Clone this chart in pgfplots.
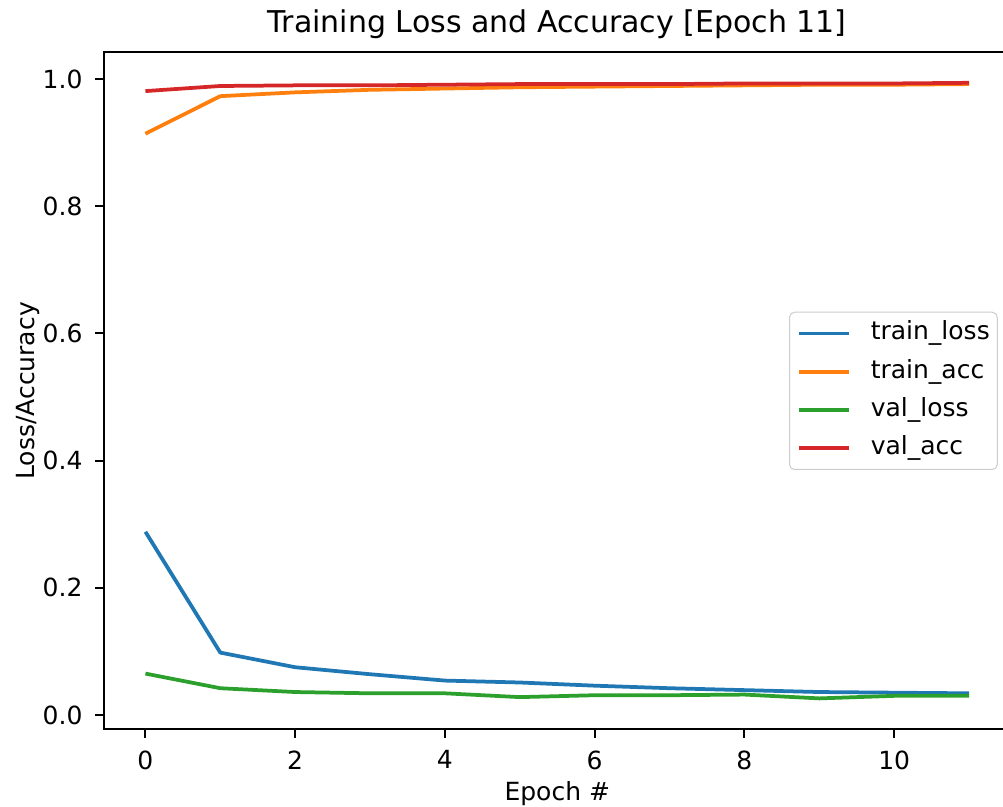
\documentclass[border=0pt]{standalone}
\usepackage{pgfplots}
\pgfplotsset{compat=1.18}
\usepackage{fontspec}
\setmainfont{DejaVu Sans}

\definecolor{c0}{HTML}{1F77B4}
\definecolor{c1}{HTML}{FF7F0E}
\definecolor{c2}{HTML}{2CA02C}
\definecolor{c3}{HTML}{D62728}

\begin{document}
\begin{tikzpicture}
\begin{axis}[
    name=ax,
    scale only axis,
    width=362.4pt, height=270.7pt,
    xmin=-0.55, xmax=11.55,
    ymin=-0.0225, ymax=1.0417,
    xtick={0,2,...,10},
    ytick={0,0.2,0.4,0.6,0.8,1.0},
    yticklabel style={/pgf/number format/fixed, /pgf/number format/fixed zerofill, /pgf/number format/precision=1},
    /pgf/number format/assume math mode=true,
    ticklabel style={font=\fontsize{10}{12}\selectfont},
    tick align=outside,
    major tick length=3.5pt,
    every tick/.style={black, line width=0.8pt},
    axis line style={line width=0.8pt},
    xtick pos=bottom, ytick pos=left,
    tick label style={inner sep=0pt},
    xticklabel style={yshift=-4.8pt, anchor=north},
    yticklabel style={xshift=-5pt, anchor=east},
    xlabel={Epoch \#},
    xlabel style={at={(axis description cs:0.5,-0.1053)}, anchor=base, inner sep=0pt, font=\fontsize{10}{12}\selectfont},
    ylabel={Loss/Accuracy},
    ylabel style={at={(axis description cs:-0.0773,0.5)}, anchor=base, inner sep=0pt, font=\fontsize{10}{12}\selectfont},
    legend image code/.code={\draw[#1] (0pt,0pt) -- (20pt,0pt);},
    legend cell align=left,
    legend style={
        at={(axis description cs:1,0.5)}, anchor=east, xshift=-5pt,
        draw={black!20}, rounded corners=2pt, fill=white, fill opacity=0.8, text opacity=1,
        font=\fontsize{10}{12}\selectfont,
        inner xsep=3pt, inner ysep=3.5pt,
        nodes={inner sep=0pt, text height=7.6pt, text depth=2.4pt},
        row sep=5.3pt, column sep=8pt,
    },
    every axis plot/.append style={line width=1.5pt, line join=round},
]
\addplot[c0] coordinates {(0,0.288) (1,0.098) (2,0.075) (3,0.064) (4,0.054) (5,0.051) (6,0.046) (7,0.042) (8,0.039) (9,0.036) (10,0.035) (11,0.034)};
\addlegendentry{train\_loss}
\addplot[c1] coordinates {(0,0.914) (1,0.973) (2,0.979) (3,0.983) (4,0.985) (5,0.987) (6,0.988) (7,0.989) (8,0.990) (9,0.991) (10,0.991) (11,0.992)};
\addlegendentry{train\_acc}
\addplot[c2] coordinates {(0,0.065) (1,0.042) (2,0.036) (3,0.034) (4,0.034) (5,0.028) (6,0.031) (7,0.031) (8,0.032) (9,0.026) (10,0.030) (11,0.030)};
\addlegendentry{val\_loss}
\addplot[c3] coordinates {(0,0.981) (1,0.989) (2,0.990) (3,0.990) (4,0.991) (5,0.992) (6,0.992) (7,0.992) (8,0.993) (9,0.993) (10,0.993) (11,0.994)};
\addlegendentry{val\_acc}
\end{axis}
\node[anchor=base, inner sep=0pt, font=\fontsize{12}{14}\selectfont] at ([yshift=7.8pt]ax.north) {Training Loss and Accuracy [Epoch 11]};
\pgfresetboundingbox
\path[use as bounding box] ([shift={(-41.7pt,-31.1pt)}]ax.south west) rectangle ([shift={(-2.9pt,21pt)}]ax.north east);
\end{tikzpicture}
\end{document}
